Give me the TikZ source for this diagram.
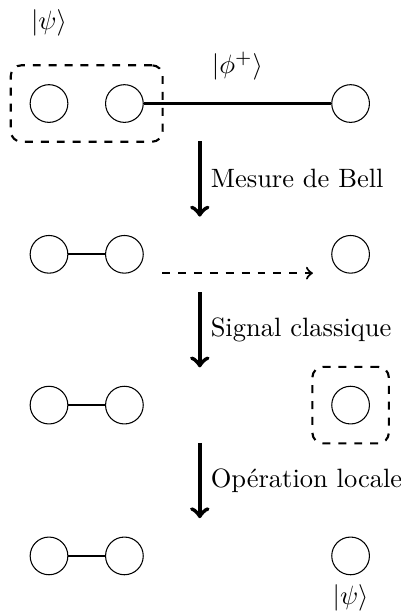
\documentclass[tikz,border=0pt]{standalone}
\usetikzlibrary{fit}
\begin{document}
\begin{tikzpicture}[
  qubit/.style={circle,draw,minimum size=0.5cm,inner sep=0pt},
  link/.style={thick},
  group/.style={draw,dashed,thick,rounded corners,inner sep=0.25cm},
  stagearrow/.style={->,ultra thick},
  classical/.style={->,dashed,thick}
]
\useasboundingbox (-0.65,-6.744) rectangle (4.668,1.373);
% row 1
\node[qubit] (a1) at (0,0) {};
\node[qubit] (b1) at (1,0) {};
\node[qubit] (c1) at (4,0) {};
\node[group,fit=(a1)(b1)] (box1) {};
\node (psiin) at (0,1.07) {$|\psi\rangle$};
\node (phi) at (2.5,0.5) {$|\phi^+\rangle$};
\draw[link] (b1) -- (c1);
% arrow 1
\coordinate (s1) at (2,-0.5);
\coordinate (e1) at (2,-1.5);
\draw[stagearrow] (s1) -- node[right] {Mesure de Bell} (e1);
% row 2
\node[qubit] (a2) at (0,-2) {};
\node[qubit] (b2) at (1,-2) {};
\node[qubit] (c2) at (4,-2) {};
\draw[link] (a2) -- (b2);
\coordinate (ds) at (1.5,-2.25);
\coordinate (de) at (3.5,-2.25);
\draw[classical] (ds) -- (de);
% arrow 2
\coordinate (s2) at (2,-2.5);
\coordinate (e2) at (2,-3.5);
\draw[stagearrow] (s2) -- node[right] {Signal classique} (e2);
% row 3
\node[qubit] (a3) at (0,-4) {};
\node[qubit] (b3) at (1,-4) {};
\node[qubit] (c3) at (4,-4) {};
\node[group,fit=(c3)] (box2) {};
\draw[link] (a3) -- (b3);
% arrow 3
\coordinate (s3) at (2,-4.5);
\coordinate (e3) at (2,-5.5);
\draw[stagearrow] (s3) -- node[right] {Opération locale} (e3);
% row 4
\node[qubit] (a4) at (0,-6) {};
\node[qubit] (b4) at (1,-6) {};
\node[qubit] (c4) at (4,-6) {};
\draw[link] (a4) -- (b4);
\node[below] (psiout) at (c4.south) {$|\psi\rangle$};
\end{tikzpicture}
\end{document}
